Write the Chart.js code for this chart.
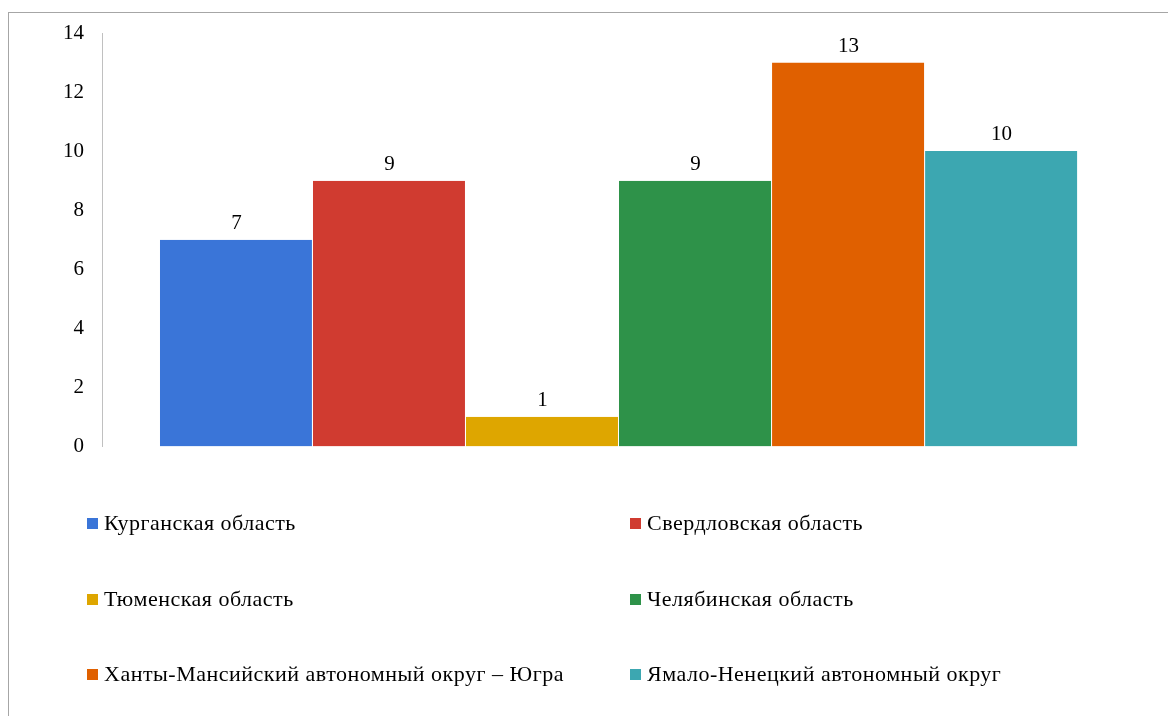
<!DOCTYPE html>
<html lang="ru">
<head>
<meta charset="utf-8">
<script src="https://cdn.jsdelivr.net/npm/chart.js@4/dist/chart.umd.min.js"></script>
<style>
  html, body { margin:0; padding:0; width:1168px; height:716px; overflow:hidden; background:#fff; }
  #frame { position:absolute; left:8px; top:12px; width:1200px; height:760px; border:1px solid #a6a6a6; box-sizing:border-box; }
  #wrap { position:absolute; left:0; top:0; width:1168px; height:477px; }
  #legend { position:absolute; left:0; top:0; width:1168px; height:716px; pointer-events:none;
    font-family:"Liberation Serif","Times New Roman",serif; font-size:22px; letter-spacing:0.5px; color:#000; }
  .item { position:absolute; display:flex; align-items:center; white-space:nowrap; height:26px; }
  .box { width:11px; height:11px; margin-right:6px; }
</style>
</head>
<body>
<div id="frame"></div>
<div id="wrap"><canvas id="chart"></canvas></div>
<div id="legend"></div>
<script>
// Regions and counts
const REGIONS = [
  "Курганская область",
  "Свердловская область",
  "Тюменская область",
  "Челябинская область",
  "Ханты-Мансийский автономный округ – Югра",
  "Ямало-Ненецкий автономный округ"
];
const VALUES = [7, 9, 1, 9, 13, 10];
const COLORS = ["#3a75d8", "#d03b30", "#dea600", "#2e9249", "#e06000", "#3ca7b1"];
const Y_TICKS = [0, 2, 4, 6, 8, 10, 12, 14];

const SERIF = "'Liberation Serif', 'Times New Roman', serif";

// value labels above each bar
const valueLabels = {
  id: "valueLabels",
  afterDatasetsDraw(chart){
    const ctx = chart.ctx;
    ctx.save();
    ctx.font = "21px " + SERIF;
    ctx.fillStyle = "#000";
    ctx.textAlign = "center";
    ctx.textBaseline = "bottom";
    chart.data.datasets.forEach((ds, i)=>{
      chart.getDatasetMeta(i).data.forEach((bar, j)=>{
        ctx.fillText(String(ds.data[j]), bar.x, bar.y - 6);
      });
    });
    ctx.restore();
  }
};

new Chart(document.getElementById("chart"), {
  type: "bar",
  data: {
    labels: [""],
    datasets: REGIONS.map((name, i)=>({
      label: name,
      data: [VALUES[i]],
      backgroundColor: COLORS[i],
      borderColor: "rgba(255,255,255,0.7)",
      borderWidth: { left:0, right:1, top:0, bottom:0 },
      borderSkipped: false
    }))
  },
  options: {
    responsive: true,
    maintainAspectRatio: false,
    animation: false,
    layout: { padding: { top:33, bottom:24, right:32, left:0 } },
    datasets: { bar: { categoryPercentage: 0.888, barPercentage: 1 } },
    plugins: { legend: { display:false }, tooltip: { enabled:false } },
    scales: {
      x: { display:false },
      y: {
        min: Y_TICKS[0], max: Y_TICKS[Y_TICKS.length-1],
        afterFit(scale){ scale.width = 102; },
        afterBuildTicks(scale){ scale.ticks = Y_TICKS.map(v=>({ value:v })); },
        grid: { display:false, drawTicks:false },
        border: { display:true, color:"#c0c0c0", width:1 },
        ticks: { padding:18, color:"#000", font:{ family:SERIF, size:21 } }
      }
    }
  },
  plugins: [valueLabels]
});

// legend: two columns, three rows
const legend = document.getElementById("legend");
const colX = [87, 630];
const rowY = [510, 586, 661];
REGIONS.forEach((name, i)=>{
  const el = document.createElement("div");
  el.className = "item";
  el.style.left = colX[i % 2] + "px";
  el.style.top = rowY[Math.floor(i / 2)] + "px";
  const box = document.createElement("span");
  box.className = "box";
  box.style.background = COLORS[i];
  const txt = document.createElement("span");
  txt.textContent = name;
  el.appendChild(box);
  el.appendChild(txt);
  legend.appendChild(el);
});
</script>
</body>
</html>
